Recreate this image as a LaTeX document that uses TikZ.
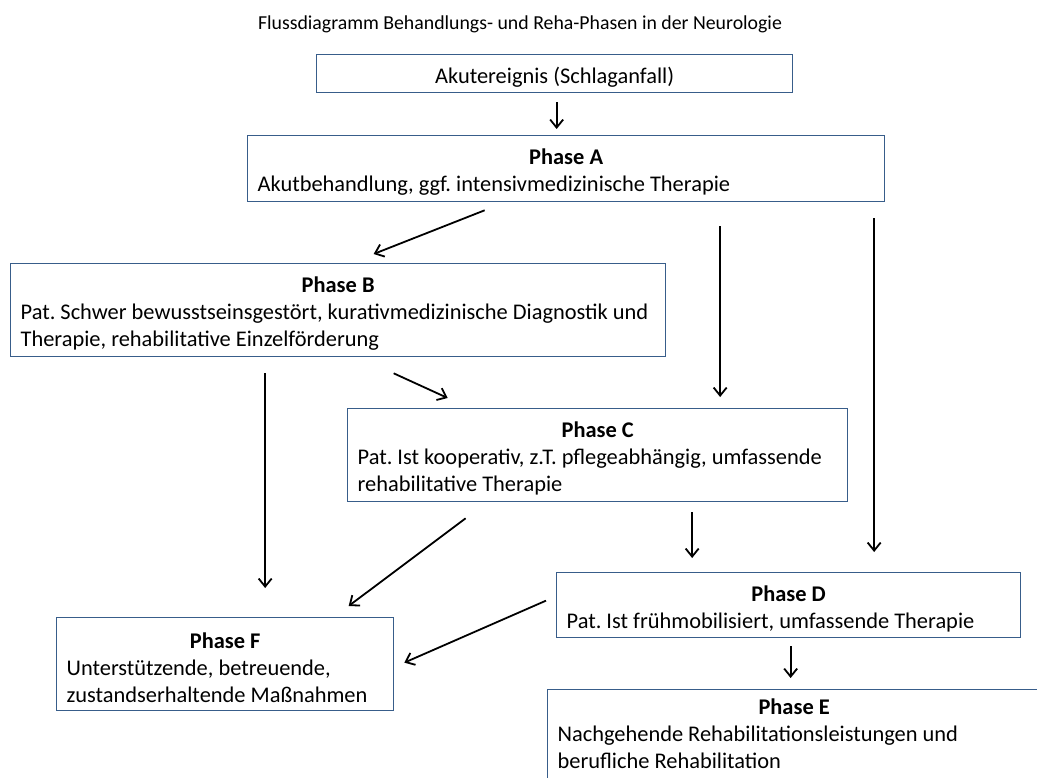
\documentclass[tikz,border=0pt]{standalone}
\usepackage{fontspec}
\setmainfont{Carlito}
\usetikzlibrary{arrows.meta,positioning}
\setlength{\parindent}{0pt}
\frenchspacing
\definecolor{flowFrameBlue}{RGB}{56,93,138}
\definecolor{flowPaperWhite}{RGB}{255,255,255}
\tikzset{
  phasebox/.style={draw=flowFrameBlue,line width=1.3pt,anchor=north west,
    inner xsep=10pt,inner ysep=0pt,align=flush left,
    font=\fontsize{22.4}{27}\selectfont},
  flowarrow/.style={line width=1.8pt,
    -{Straight Barb[length=8pt,width=13pt]}},
}
\newcommand{\phasehead}[1]{\makebox[\linewidth][c]{\rule{0pt}{23pt}\bfseries #1}\\}

\begin{document}
\begin{tikzpicture}[x=1pt,y=-1pt]

  \useasboundingbox (0,0) rectangle (1037,778);
  \fill[flowPaperWhite] (0,0) rectangle (1037,778);
  \clip (0,0) rectangle (1037,778);

  \node[font=\fontsize{19.8}{24}\selectfont] (title) at (520,24)
    {Flussdiagramm Behandlungs- und Reha-Phasen in der Neurologie};

  \node[phasebox,align=center,minimum width=476pt,minimum height=38pt,
    text height=24pt,text depth=5pt] (akut) at (316,54)
    {Akutereignis (Schlaganfall)};
  \node[phasebox,text width=617pt,minimum height=66pt] (phaseA) at (247,135)
    {\phasehead{Phase A}Akutbehandlung, ggf. intensivmedizinische Therapie};
  \node[phasebox,text width=635pt,minimum height=93pt] (phaseB) at (10,263)
    {\phasehead{Phase B}Pat. Schwer bewusstseinsgestört, kurativmedizinische Diagnostik und\\
     Therapie, rehabilitative Einzelförderung};
  \node[phasebox,text width=480pt,minimum height=93pt] (phaseC) at (347,408)
    {\phasehead{Phase C}Pat. Ist kooperativ, z.T. pflegeabhängig, umfassende\\
     rehabilitative Therapie};
  \node[phasebox,text width=444pt,minimum height=65pt] (phaseD) at (556,572)
    {\phasehead{Phase D}Pat. Ist frühmobilisiert, umfassende Therapie};
  \node[phasebox,text width=317pt,minimum height=93pt] (phaseF) at (56,617)
    {\phasehead{Phase F}Unterstützende, betreuende,\\
     zustandserhaltende Maßnahmen};
  \node[phasebox,text width=473pt,minimum height=100pt] (phaseE) at (547,689)
    {\phasehead{Phase E}Nachgehende Rehabilitationsleistungen und\\
     berufliche Rehabilitation\rule[-19pt]{0pt}{0pt}};

  \draw[flowarrow,shorten >=6pt] ([xshift=2pt,yshift=-9pt]akut.south) coordinate (akutDrop)
    -- (akutDrop |- phaseA.north);
  \draw[flowarrow] ([xshift=-81.5pt,yshift=-8pt]phaseA.south) -- ([xshift=35.5pt,yshift=9pt]phaseB.north);
  \draw[flowarrow,shorten >=11pt] ([xshift=154pt,yshift=-24pt]phaseA.south) coordinate (aDropC)
    -- (aDropC |- phaseC.north);
  \draw[flowarrow,shorten >=20pt] ([xshift=308pt,yshift=-16pt]phaseA.south) coordinate (aDropD)
    -- (aDropD |- phaseD.north);
  \draw[flowarrow,shorten >=29pt] ([xshift=-73pt,yshift=-16pt]phaseB.south) coordinate (bDropF)
    -- (bDropF |- phaseF.north);
  \draw[flowarrow] ([xshift=55.5pt,yshift=-16pt]phaseB.south) -- ([xshift=-150pt,yshift=10pt]phaseC.north);
  \draw[flowarrow] ([xshift=-132pt,yshift=-16pt]phaseC.south) -- ([xshift=123.5pt,yshift=11pt]phaseF.north);
  \draw[flowarrow,shorten >=14pt] ([xshift=94.5pt,yshift=-10pt]phaseC.south) coordinate (cDropD)
    -- (cDropD |- phaseD.north);
  \draw[flowarrow] ([xshift=-10pt,yshift=4.5pt]phaseD.west) -- ([xshift=10pt,yshift=1.5pt]phaseF.east);
  \draw[flowarrow,shorten >=11pt] ([xshift=2pt,yshift=-8pt]phaseD.south) coordinate (dDropE)
    -- (dDropE |- phaseE.north);

\end{tikzpicture}
\end{document}
